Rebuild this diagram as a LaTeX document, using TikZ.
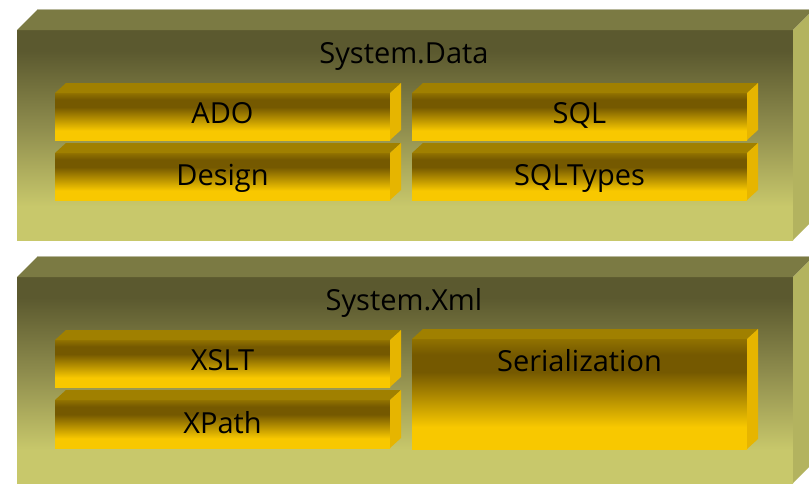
\documentclass[tikz,border=0pt]{standalone}
\usepackage{fontspec}
\setmainfont{Open Sans}
\definecolor{olvtop}{HTML}{5B592F}
\definecolor{olvmid}{HTML}{8E8C4D}
\definecolor{olvbot}{HTML}{C8C86B}
\definecolor{olvlid}{HTML}{7B7A43}
\definecolor{olvside}{HTML}{B3B35F}
\definecolor{olvedge}{HTML}{B8B89C}
\definecolor{bartopc}{HTML}{917200}
\definecolor{bardark}{HTML}{755900}
\definecolor{barbot}{HTML}{F8C800}
\definecolor{barlid}{HTML}{A08000}
\definecolor{barside}{HTML}{E6B500}
\pgfdeclareverticalshading{olvshade}{100bp}{color(0bp)=(olvbot); color(25bp)=(olvbot); color(33bp)=(olvbot); color(52bp)=(olvmid); color(70bp)=(olvtop); color(75bp)=(olvtop); color(100bp)=(olvtop)}
\pgfdeclareverticalshading{barshade}{100bp}{color(0bp)=(barbot); color(25bp)=(barbot); color(35bp)=(barbot); color(60bp)=(bardark); color(68bp)=(bardark); color(75bp)=(bartopc); color(100bp)=(bartopc)}
\tikzset{
  face/.style={inner sep=0pt, outer sep=0pt, draw=none},
  blockfront/.style={face, shading=olvshade},
  barfront/.style={face, shading=barshade},
  lbl/.style={font=\fontsize{29}{29}\selectfont, text=black, anchor=base, inner sep=0pt},
  olvlidstyle/.style={fill=olvlid},
  olvsidestyle/.style={fill=olvside},
  barlidstyle/.style={fill=barlid},
  barsidestyle/.style={fill=barside},
}
\newcommand\slabfaces[5]{%
  \fill[#4] (#1.north west) -- ++(#2,-#3) -- ([shift={(#2,-#3)}]#1.north east) -- (#1.north east) -- cycle;
  \fill[#5] (#1.north east) -- ++(#2,-#3) -- ([shift={(#2,-#3)}]#1.south east) -- (#1.south east) -- cycle;
}
\begin{document}
\begin{tikzpicture}[x=1pt,y=-1pt]
\useasboundingbox (0,0) rectangle (809,483);
\clip (0,0) rectangle (809,483);
\fill[white] (0,0) rectangle (809,483);
% outer blocks
\node[blockfront, minimum width=776pt, minimum height=210pt] (data) at (405,135) {};
\slabfaces{data}{21}{21}{olvlidstyle}{olvsidestyle}
\draw[olvedge, line width=1pt] ([shift={(21,-21)}]data.north west) -- ([shift={(21,-21)}]data.north east);
\node[blockfront, minimum width=776pt, minimum height=206pt] (xml) at (405,380) {};
\slabfaces{xml}{21}{21}{olvlidstyle}{olvsidestyle}
\draw[olvedge, line width=1pt] ([shift={(21,-21)}]xml.north west) -- ([shift={(21,-21)}]xml.north east);
% bars
\node[barfront, minimum width=335pt, minimum height=47pt] (ado) at (222.5,116.5) {};
\node[barfront, minimum width=335pt, minimum height=47pt] (design) at (222.5,176.5) {};
\node[barfront, minimum width=335pt, minimum height=47pt] (sql) at (579.5,116.5) {};
\node[barfront, minimum width=335pt, minimum height=47pt] (sqltypes) at (579.5,176.5) {};
\node[barfront, minimum width=335pt, minimum height=47pt] (xslt) at (222.5,363.5) {};
\node[barfront, minimum width=335pt, minimum height=48pt] (xpath) at (222.5,424) {};
\node[barfront, minimum width=335pt, minimum height=110pt] (ser) at (579.5,394) {};
\foreach \b in {ado,design,sql,sqltypes,xslt,xpath,ser}{
  \slabfaces{\b}{11}{10}{barlidstyle}{barsidestyle}
}
% labels
\node[lbl] (dataT) at (404,63) {System.Data};
\node[lbl] (xmlT) at (404,310) {System.Xml};
\node[lbl] (adoT) at (222.5,123) {ADO};
\node[lbl] (designT) at (222.5,185) {Design};
\node[lbl] (sqlT) at (579.5,123) {SQL};
\node[lbl] (sqltypesT) at (579.5,185) {SQLTypes};
\node[lbl] (xsltT) at (222.5,370) {XSLT};
\node[lbl] (xpathT) at (222.5,433) {XPath};
\node[lbl] (serT) at (579.5,371) {Serialization};
\end{tikzpicture}
\end{document}
